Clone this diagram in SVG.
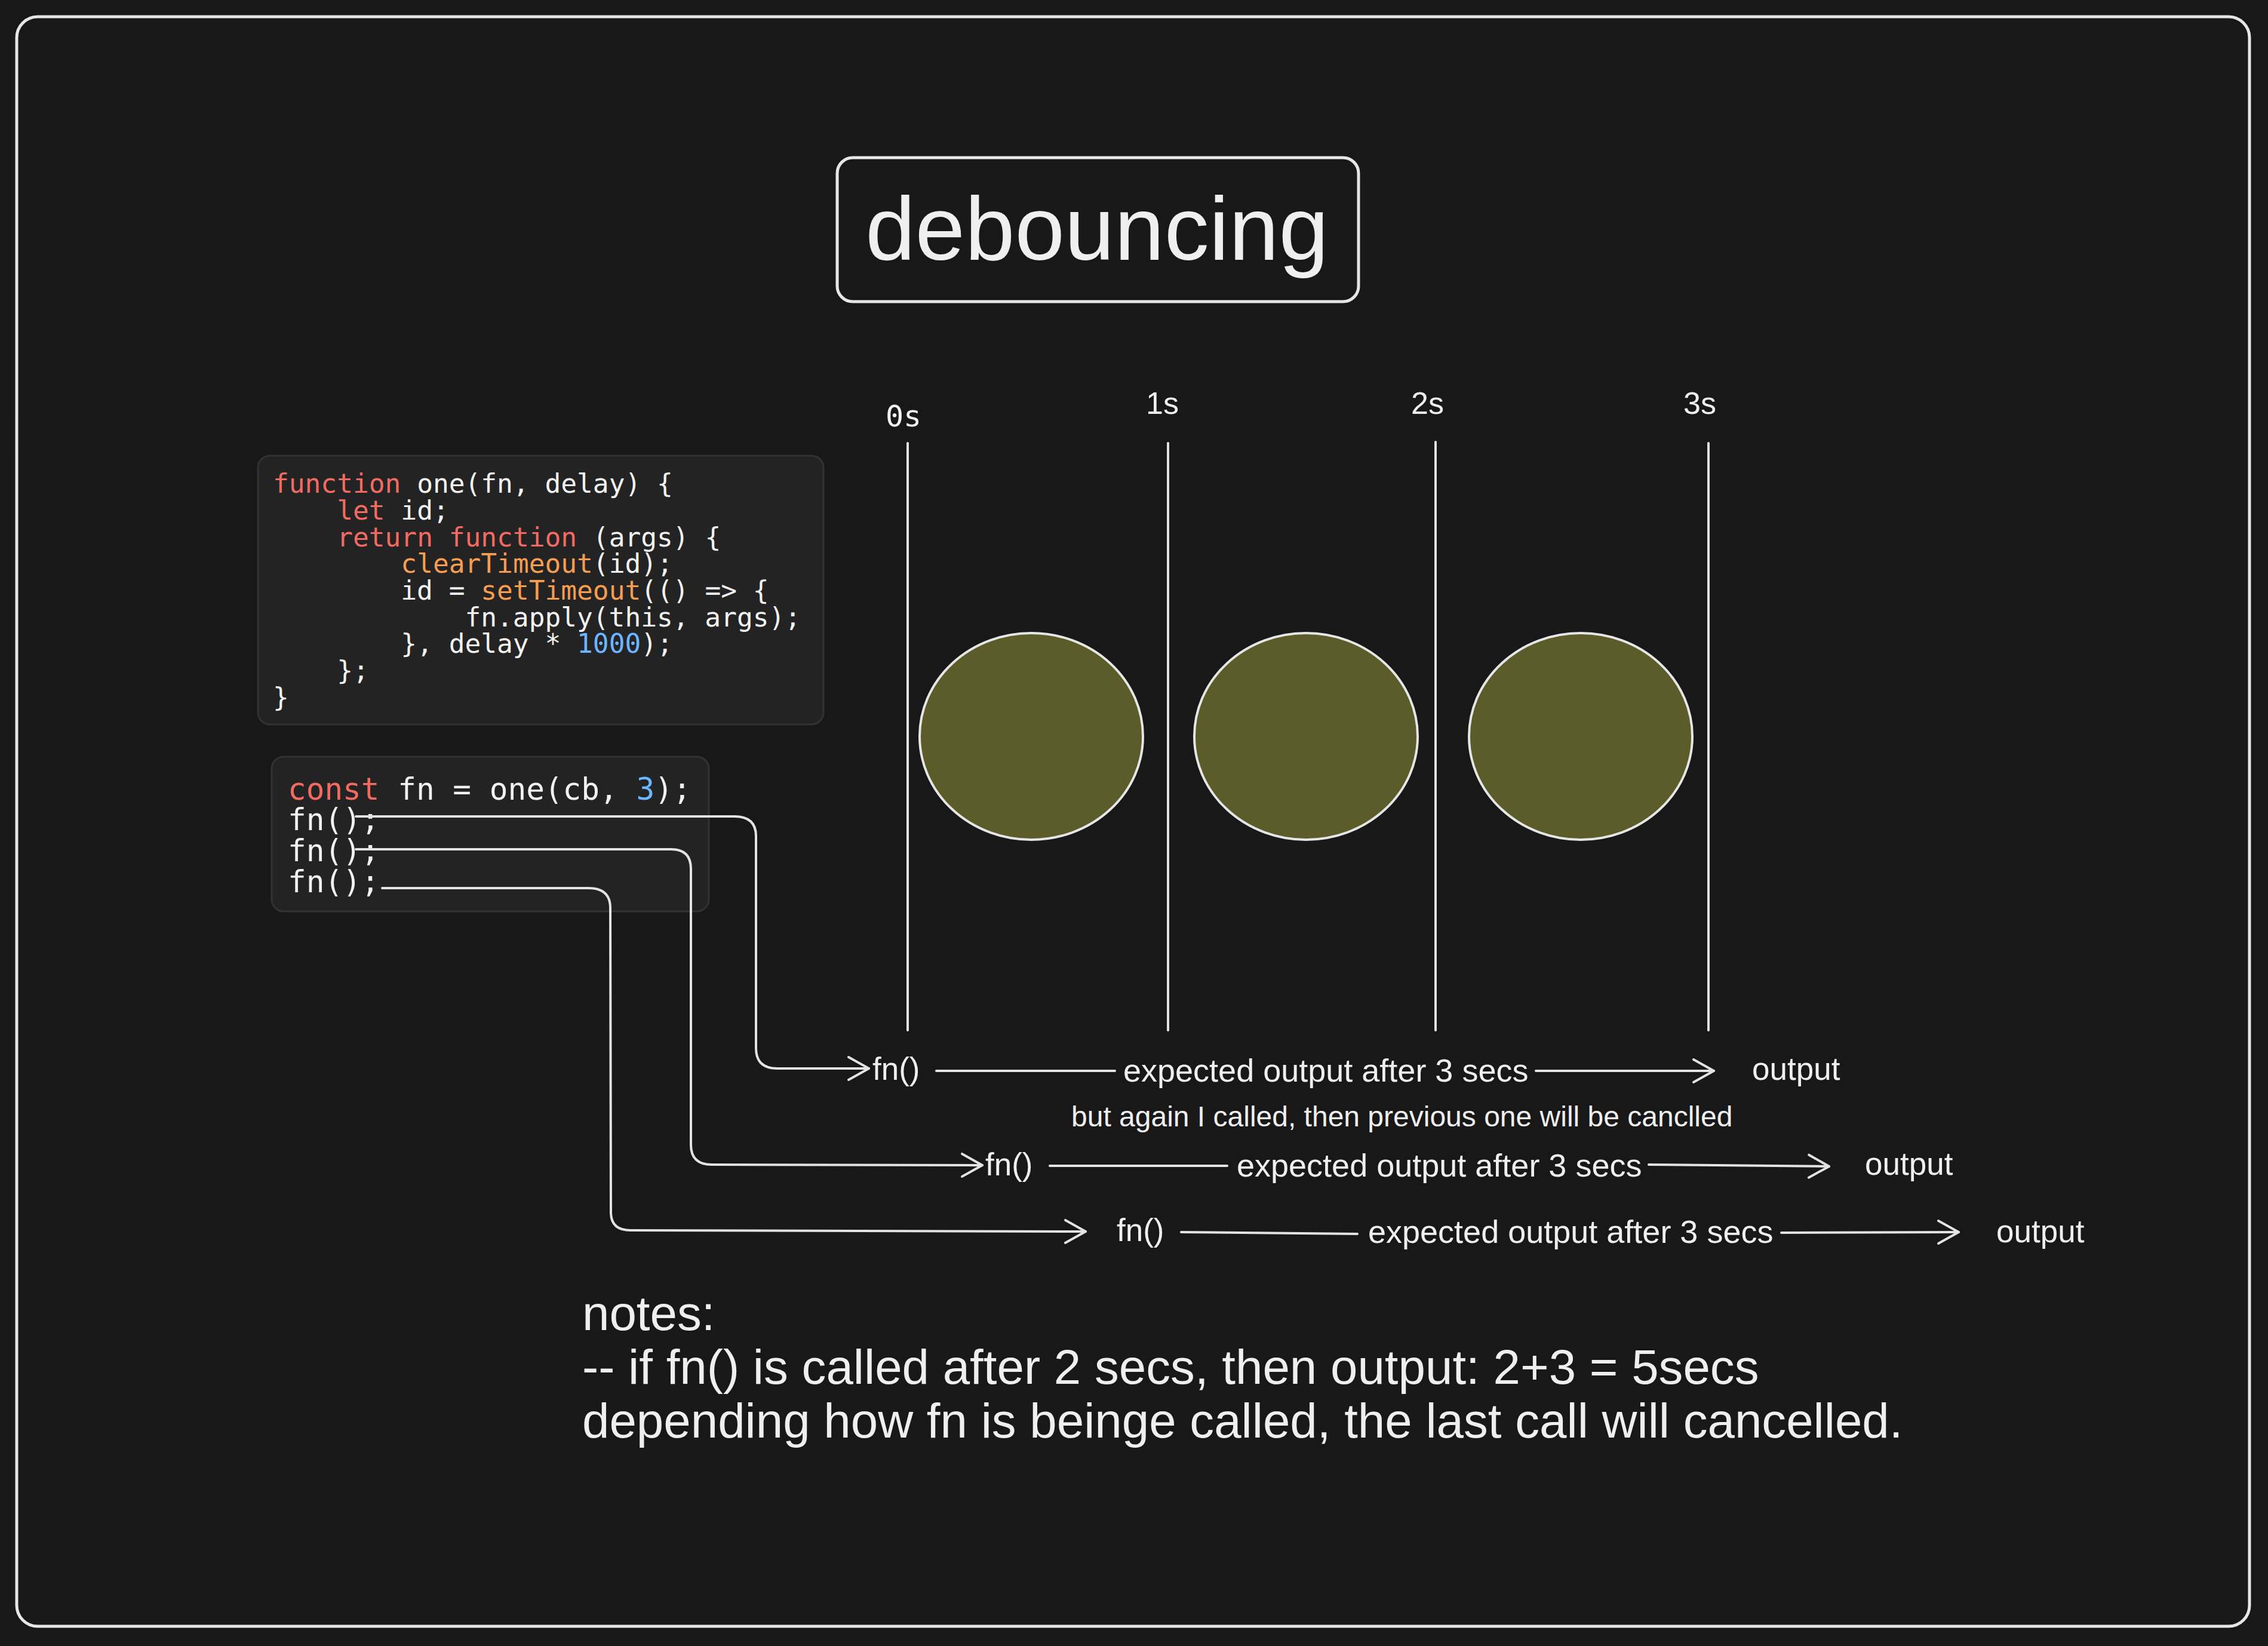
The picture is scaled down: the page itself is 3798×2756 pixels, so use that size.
<svg xmlns="http://www.w3.org/2000/svg" width="3798" height="2756" viewBox="0 0 3798 2756">
<defs>
<style>
.bg{fill:#181818}
.frame{fill:none;stroke:#e6e6e6;stroke-width:5}
.code{fill:#232323;stroke:#323232;stroke-width:3}
.mono{font-family:"DejaVu Sans Mono","Liberation Mono",monospace;fill:#f2f2f2}
.kw{fill:#f26b62}
.fnc{fill:#f69d50}
.num{fill:#6cb6ff}
.sans{font-family:"Liberation Sans",Arial,sans-serif;fill:#efefef}
.ln{fill:none;stroke:#e3e3e3;stroke-width:4;stroke-linecap:round;stroke-linejoin:round}
.ell{fill:#5b5c29;stroke:#e6e6e6;stroke-width:4}
</style>
<marker id="arr" markerUnits="userSpaceOnUse" viewBox="-40 -25 46 50" markerWidth="46" markerHeight="50" refX="0" refY="0" orient="auto">
<path d="M -34 -19 L 0 0 L -34 19" fill="none" stroke="#e3e3e3" stroke-width="4" stroke-linecap="round" stroke-linejoin="round"/>
</marker>
</defs>
<rect class="bg" x="0" y="0" width="3798" height="2756"/>
<rect id="frame" class="frame" x="28" y="28" width="3739" height="2695" rx="35"/>

<g id="title">
<rect class="frame" x="1402" y="264" width="873" height="241" rx="26"/>
<text class="sans" x="1837" y="435" font-size="150" text-anchor="middle">debouncing</text>
</g>

<g id="code-one">
<rect class="code" x="432" y="763" width="947" height="450" rx="20"/>
<text class="mono" font-size="44.5" xml:space="preserve">
<tspan x="457" y="825"><tspan class="kw">function</tspan> one(fn, delay) {</tspan>
<tspan x="457" y="870">    <tspan class="kw">let</tspan> id;</tspan>
<tspan x="457" y="915">    <tspan class="kw">return</tspan> <tspan class="kw">function</tspan> (args) {</tspan>
<tspan x="457" y="959">        <tspan class="fnc">clearTimeout</tspan>(id);</tspan>
<tspan x="457" y="1004">        id = <tspan class="fnc">setTimeout</tspan>(() =&gt; {</tspan>
<tspan x="457" y="1049">            fn.apply(this, args);</tspan>
<tspan x="457" y="1093">        }, delay * <tspan class="num">1000</tspan>);</tspan>
<tspan x="457" y="1138">    };</tspan>
<tspan x="457" y="1183">}</tspan>
</text>
</g>

<g id="code-calls">
<rect class="code" x="455" y="1267" width="732" height="259" rx="20"/>
<text class="mono" font-size="51" xml:space="preserve">
<tspan x="482" y="1339"><tspan class="kw">const</tspan> fn = one(cb, <tspan class="num">3</tspan>);</tspan>
<tspan x="482" y="1390">fn();</tspan>
<tspan x="482" y="1442">fn();</tspan>
<tspan x="482" y="1494">fn();</tspan>
</text>
</g>

<g id="timeline">
<text class="mono" x="1483" y="714" font-size="50">0s</text>
<text class="sans" x="1919" y="693" font-size="52">1s</text>
<text class="sans" x="2363" y="693" font-size="52">2s</text>
<text class="sans" x="2819" y="693" font-size="52">3s</text>
<line class="ln" x1="1520" y1="742" x2="1520" y2="1725"/>
<line class="ln" x1="1956" y1="742" x2="1956" y2="1725"/>
<line class="ln" x1="2404" y1="740" x2="2404" y2="1725"/>
<line class="ln" x1="2861" y1="742" x2="2861" y2="1725"/>
</g>

<g id="circle-1"><ellipse class="ell" cx="1727" cy="1233" rx="187" ry="173"/></g>
<g id="circle-2"><ellipse class="ell" cx="2187" cy="1233" rx="187" ry="173"/></g>
<g id="circle-3"><ellipse class="ell" cx="2647" cy="1233" rx="187" ry="173"/></g>

<g id="row-1">
<text class="sans" x="1461" y="1808" font-size="53">fn()</text>
<text class="sans" x="1881" y="1811" font-size="54">expected output after 3 secs</text>
<text class="sans" x="2934" y="1808" font-size="53">output</text>
</g>
<text id="cancel-note" class="sans" x="1794" y="1886" font-size="48">but again I called, then previous one will be canclled</text>
<g id="row-2">
<text class="sans" x="1650" y="1968" font-size="53">fn()</text>
<text class="sans" x="2071" y="1970" font-size="54">expected output after 3 secs</text>
<text class="sans" x="3123" y="1967" font-size="53">output</text>
</g>
<g id="row-3">
<text class="sans" x="1870" y="2078" font-size="53">fn()</text>
<text class="sans" x="2291" y="2081" font-size="54">expected output after 3 secs</text>
<text class="sans" x="3343" y="2080" font-size="53">output</text>
</g>

<g id="connectors">
<path class="ln" marker-end="url(#arr)" d="M 596 1367 L 1230 1367 Q 1266 1367 1266 1400 L 1266 1755 Q 1266 1789 1302 1789 L 1455 1789"/>
<path class="ln" marker-end="url(#arr)" d="M 596 1422 L 1124 1422 Q 1157 1422 1157 1455 L 1157 1917 Q 1157 1950 1192 1950 L 1645 1951"/>
<path class="ln" marker-end="url(#arr)" d="M 640 1487 L 985 1487 Q 1022 1487 1022 1520 L 1023 2030 Q 1023 2060 1056 2060 L 1818 2062"/>
<line class="ln" x1="1568" y1="1793" x2="1867" y2="1793"/>
<line class="ln" marker-end="url(#arr)" x1="2572" y1="1793" x2="2870" y2="1793"/>
<line class="ln" x1="1758" y1="1952" x2="2055" y2="1952"/>
<line class="ln" marker-end="url(#arr)" x1="2761" y1="1950" x2="3063" y2="1953"/>
<line class="ln" x1="1978" y1="2063" x2="2273" y2="2066"/>
<line class="ln" marker-end="url(#arr)" x1="2983" y1="2064" x2="3280" y2="2063"/>
</g>

<g id="notes">
<text class="sans" font-size="81.7">
<tspan x="975" y="2227">notes:</tspan>
<tspan x="975" y="2317">-- if fn() is called after 2 secs, then output: 2+3 = 5secs</tspan>
<tspan x="975" y="2407">depending how fn is beinge called, the last call will cancelled.</tspan>
</text>
</g>
</svg>
